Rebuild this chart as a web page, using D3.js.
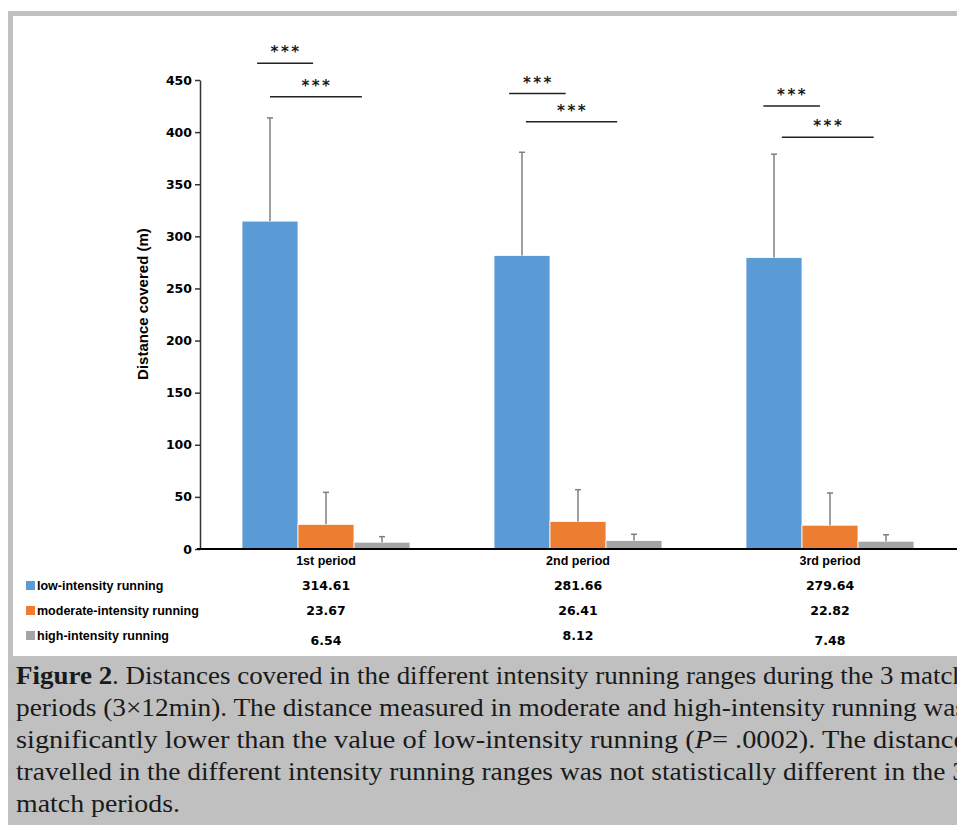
<!DOCTYPE html>
<html>
<head>
<meta charset="utf-8">
<script src="https://cdn.jsdelivr.net/npm/d3@7"></script>
<style>
  html, body { margin: 0; padding: 0; background: #fff; }
  svg { display: block; }
</style>
</head>
<body>
<div id="chart"></div>
<script>
// data
const periods = ["1st period", "2nd period", "3rd period"];
const seriesNames = ["low-intensity running", "moderate-intensity running", "high-intensity running"];
const lowMeans = [314.61, 281.66, 279.64];
const moderateMeans = [23.67, 26.41, 22.82];
const highMeans = [6.54, 8.12, 7.48];
const lowSD = [99.0, 99.0, 99.2];
const moderateSD = [30.7, 30.5, 30.9];
const highSD = [5.3, 6.0, 6.2];
const yTicks = [0, 50, 100, 150, 200, 250, 300, 350, 400, 450];
const valueLabels = [
  ["314.61", "281.66", "279.64"],
  ["23.67", "26.41", "22.82"],
  ["6.54", "8.12", "7.48"]
];
// significance lines: period index, start/end in bar widths from group start, height in metres
const bracketPeriod = [0, 0, 1, 1, 2, 2];
const bracketFrom = [0.27, 0.5, 0.27, 0.57, 0.31, 0.64];
const bracketTo = [1.27, 2.14, 1.28, 2.2, 1.32, 2.28];
const bracketLevel = [466, 434, 437, 410, 425, 395];
const captionLines = [
  [["Figure 2", true], [". Distances covered in the different intensity running ranges during the 3 match", false]],
  [["periods (3×12min). The distance measured in moderate and high-intensity running was", false]],
  [["significantly lower than the value of low-intensity running (", false], ["P", "i"], ["= .0002). The distance", false]],
  [["travelled in the different intensity running ranges was not statistically different in the 3", false]],
  [["match periods.", false]]
];

const width = 957, height = 825;
const colors = ["#5b9bd5", "#ed7d31", "#a5a5a5"];
const means = [lowMeans, moderateMeans, highMeans];
const sds = [lowSD, moderateSD, highSD];

const svg = d3.select("#chart").append("svg")
  .attr("width", width)
  .attr("height", height);

// frame + caption background
svg.append("rect").attr("x", 8).attr("y", 11).attr("width", width - 8).attr("height", height - 11).attr("fill", "#c0c0c0");
svg.append("rect").attr("x", 13).attr("y", 16).attr("width", width - 13).attr("height", 640).attr("fill", "#fff");

const x0 = d3.scaleBand().domain(periods).range([200, 956]).paddingInner(0).paddingOuter(0);
const x1 = d3.scaleBand().domain(seriesNames).range([0, x0.bandwidth()]).paddingInner(0).paddingOuter(0.75);
const y = d3.scaleLinear().domain([0, 450]).range([549, 80]);

const labelFont = "Liberation Sans";
const numFont = "DejaVu Sans";

// y axis
const yAxis = svg.append("g")
  .attr("transform", `translate(${x0.range()[0]},0)`)
  .call(d3.axisLeft(y).tickValues(yTicks).tickSize(5).tickPadding(3).tickSizeOuter(0));
yAxis.select(".domain").attr("stroke", "#333").attr("stroke-width", 1.5);
yAxis.selectAll(".tick line").attr("stroke", "#333").attr("stroke-width", 1.5);
yAxis.selectAll(".tick text")
  .attr("font-family", numFont).attr("font-weight", "bold").attr("font-size", 12.5).attr("fill", "#000");

svg.append("text")
  .attr("transform", `translate(148,${y(235)}) rotate(-90)`)
  .attr("text-anchor", "middle")
  .attr("font-family", labelFont).attr("font-weight", "bold").attr("font-size", 15)
  .text("Distance covered (m)");

// bars
const groups = svg.append("g").selectAll("g")
  .data(periods)
  .join("g")
  .attr("transform", d => `translate(${x0(d)},0)`);

groups.selectAll("rect")
  .data((p, i) => seriesNames.map((s, k) => ({ s, k, v: means[k][i] })))
  .join("rect")
  .attr("x", d => x1(d.s))
  .attr("y", d => y(d.v))
  .attr("width", x1.bandwidth())
  .attr("height", d => y(0) - y(d.v))
  .attr("fill", d => colors[d.k])
  .attr("stroke", "#fff")
  .attr("stroke-width", 0.8);

// error bars (upper only)
const errs = groups.selectAll("g.err")
  .data((p, i) => seriesNames.map((s, k) => ({ s, k, v: means[k][i], sd: sds[k][i] })))
  .join("g").attr("class", "err");
errs.append("line")
  .attr("x1", d => x1(d.s) + x1.bandwidth() / 2)
  .attr("x2", d => x1(d.s) + x1.bandwidth() / 2)
  .attr("y1", d => y(d.v))
  .attr("y2", d => y(d.v + d.sd))
  .attr("stroke", "#7f7f7f").attr("stroke-width", 1.5);
errs.append("line")
  .attr("x1", d => x1(d.s) + x1.bandwidth() / 2 - 3)
  .attr("x2", d => x1(d.s) + x1.bandwidth() / 2 + 3)
  .attr("y1", d => y(d.v + d.sd))
  .attr("y2", d => y(d.v + d.sd))
  .attr("stroke", "#7f7f7f").attr("stroke-width", 1.5);

// x axis
const xAxis = svg.append("g")
  .attr("transform", `translate(0,${y(0)})`)
  .call(d3.axisBottom(x0).tickSize(0).tickPadding(7));
xAxis.select(".domain")
  .attr("d", `M${x0.range()[0] - 3},0H${width}`)
  .attr("stroke", "#000").attr("stroke-width", 2);
xAxis.selectAll(".tick text")
  .attr("font-family", labelFont).attr("font-weight", "bold").attr("font-size", 12.5).attr("fill", "#000");

// significance lines
const brackets = bracketPeriod.map((p, i) => ({
  x1: x0(periods[p]) + x1(seriesNames[0]) + bracketFrom[i] * x1.bandwidth(),
  x2: x0(periods[p]) + x1(seriesNames[0]) + bracketTo[i] * x1.bandwidth(),
  yy: y(bracketLevel[i])
}));
const sig = svg.append("g").selectAll("g").data(brackets).join("g");
sig.append("line")
  .attr("x1", d => d.x1).attr("x2", d => d.x2)
  .attr("y1", d => d.yy).attr("y2", d => d.yy)
  .attr("stroke", "#222").attr("stroke-width", 1.5);
sig.append("text")
  .attr("x", d => (d.x1 + d.x2) / 2 + 1)
  .attr("y", d => d.yy - 6)
  .attr("text-anchor", "middle")
  .attr("font-family", numFont).attr("font-weight", "bold").attr("font-size", 15).attr("letter-spacing", 2.5)
  .attr("fill", "#1a1a1a")
  .text("***");

// data table below the axis
const rowY = [590, 615, 640];
const legend = svg.append("g");
seriesNames.forEach((s, k) => {
  legend.append("rect")
    .attr("x", 26).attr("y", rowY[k] - 9)
    .attr("width", 9).attr("height", 9)
    .attr("fill", colors[k]);
  legend.append("text")
    .attr("x", 37).attr("y", rowY[k])
    .attr("font-family", labelFont).attr("font-weight", "bold").attr("font-size", 12.5)
    .text(s);
  periods.forEach((p, i) => {
    legend.append("text")
      .attr("x", x0(p) + x0.bandwidth() / 2)
      .attr("y", rowY[k] + (k === 2 && i !== 1 ? 5 : 0))
      .attr("text-anchor", "middle")
      .attr("font-family", numFont).attr("font-weight", "bold").attr("font-size", 12.5)
      .text(valueLabels[k][i]);
  });
});

// caption
const cap = svg.append("g")
  .attr("font-family", "Liberation Serif")
  .attr("font-size", 26)
  .attr("fill", "#1a1a1a");
captionLines.forEach((parts, li) => {
  const t = cap.append("text")
    .attr("x", 16)
    .attr("y", 684 + li * 32)
    .attr("lengthAdjust", "spacingAndGlyphs")
    .attr("textLength", li < captionLines.length - 1 ? 950 : 164);
  parts.forEach(([txt, style]) => {
    const ts = t.append("tspan").text(txt);
    if (style === true) ts.attr("font-weight", "bold");
    if (style === "i") ts.attr("font-style", "italic");
  });
});
</script>
</body>
</html>
